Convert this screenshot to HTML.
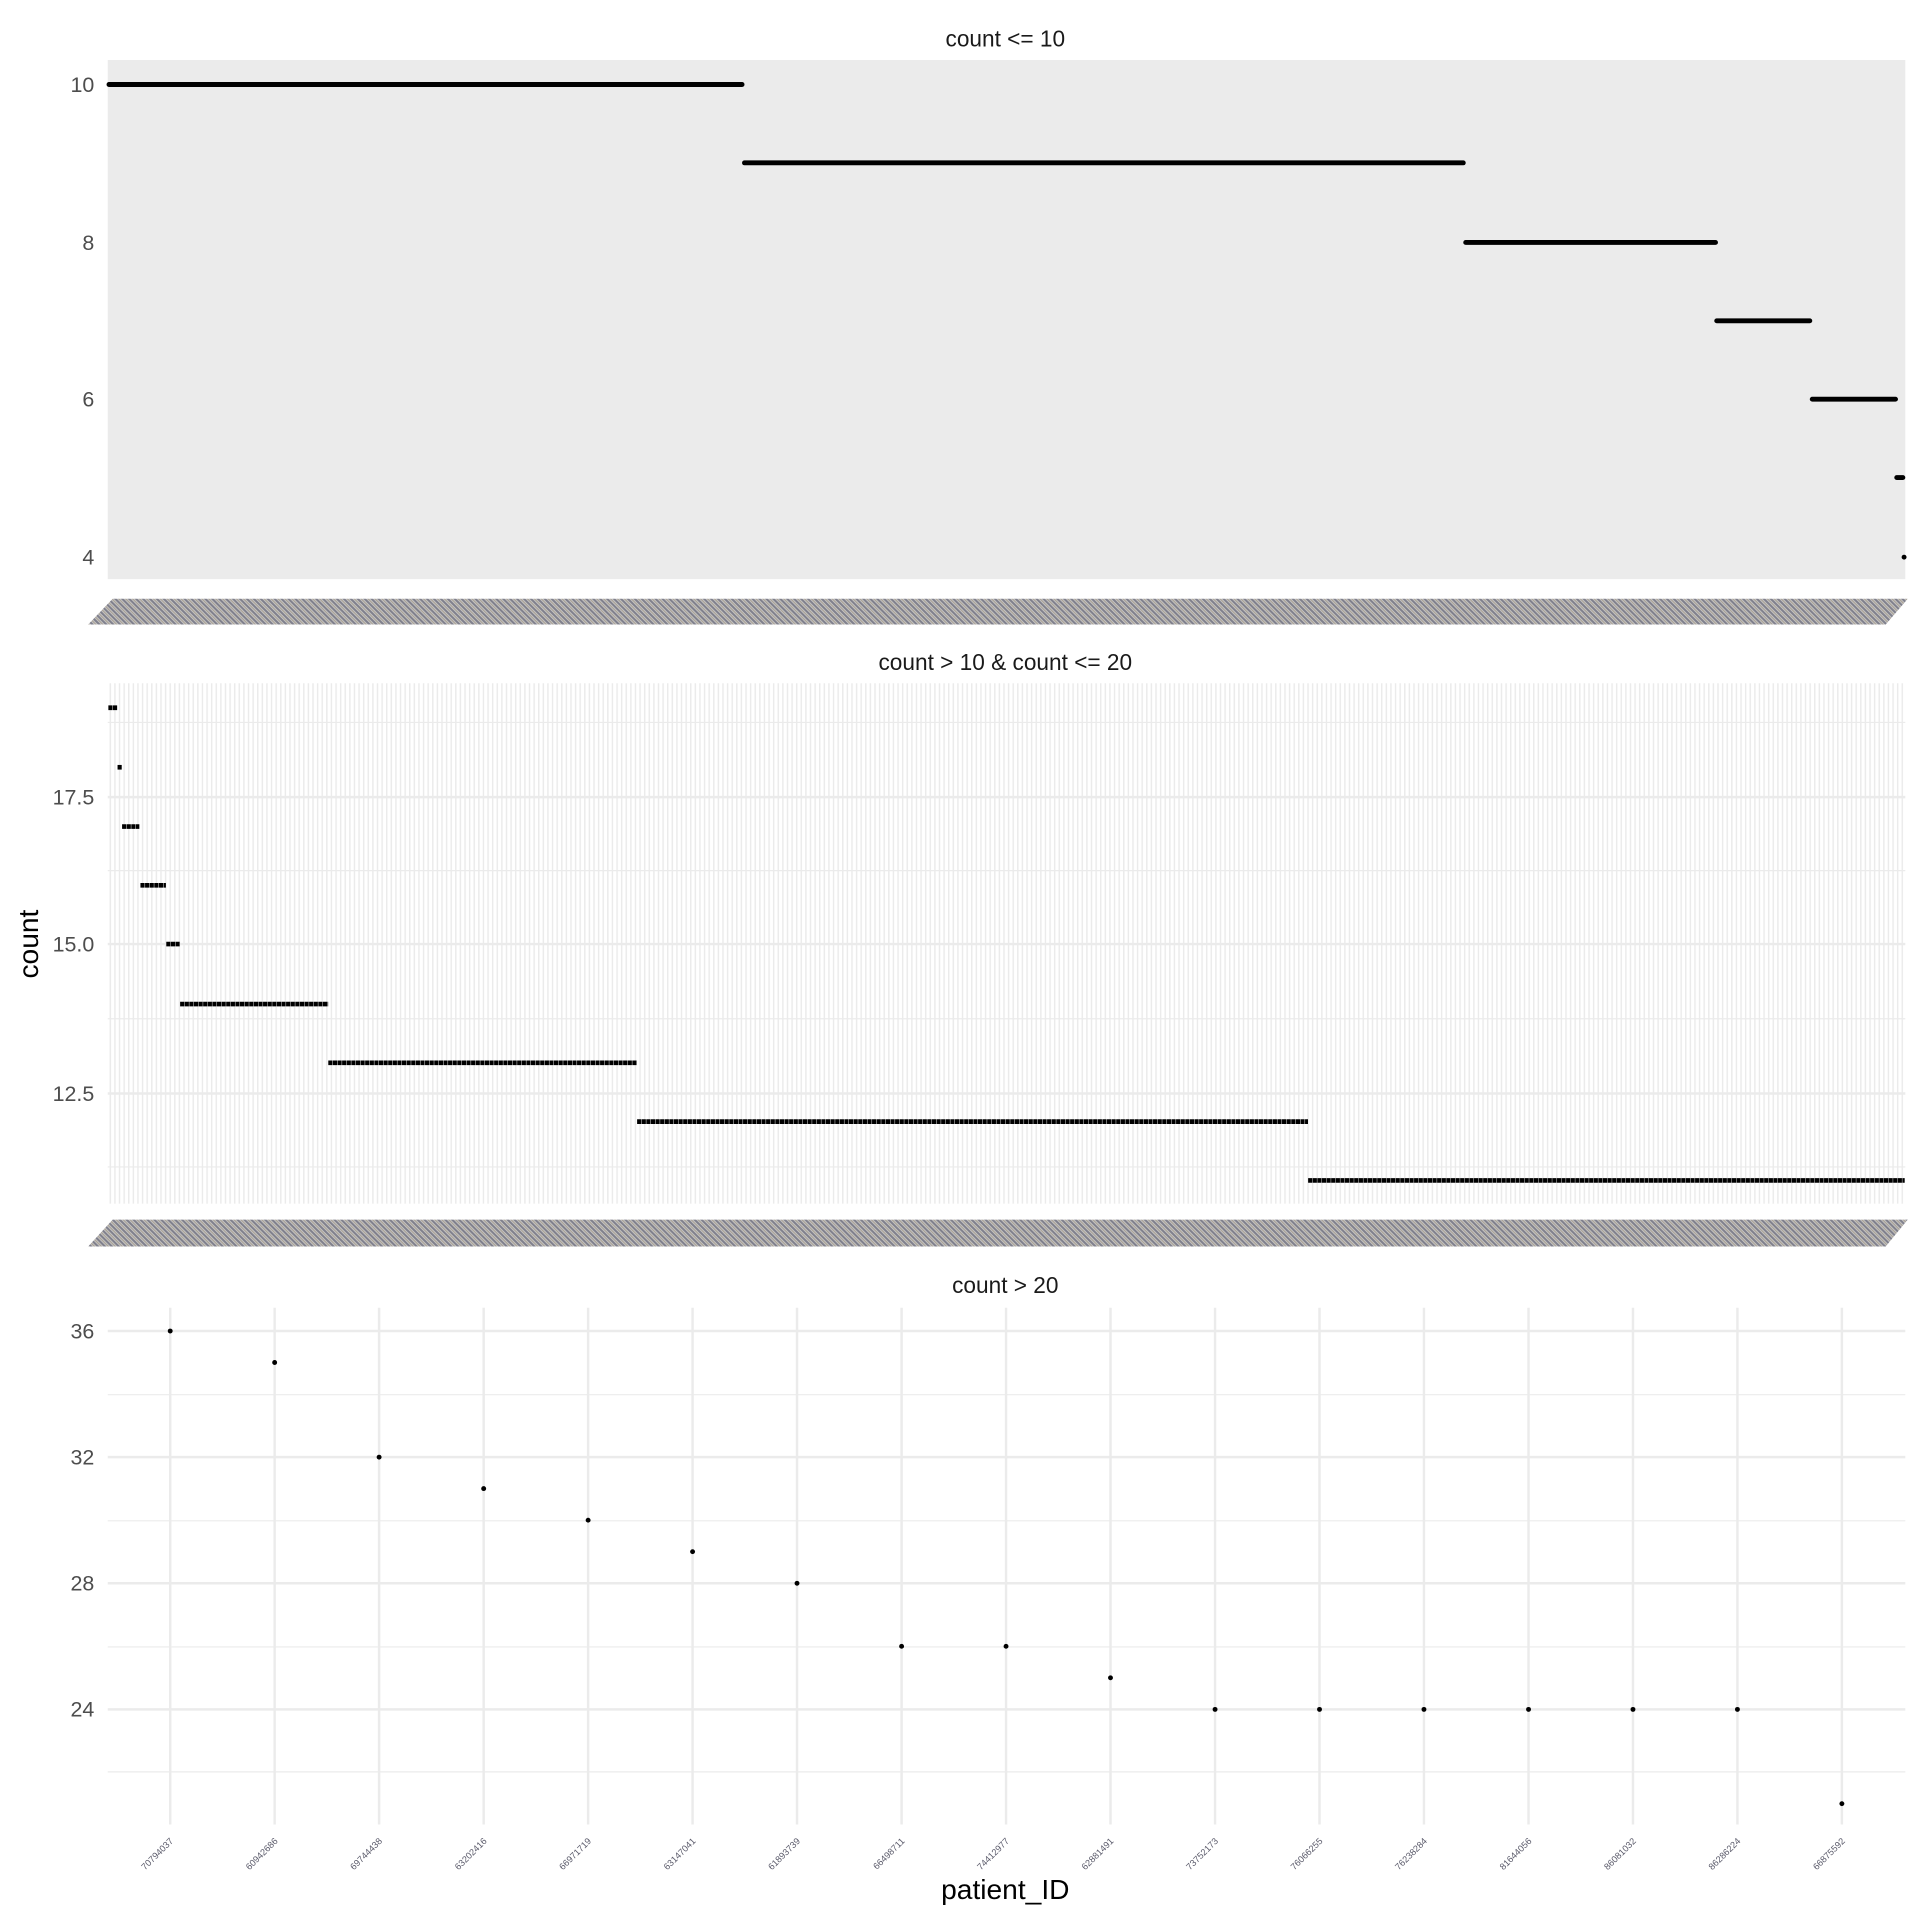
<!DOCTYPE html>
<html><head><meta charset="utf-8"><style>html,body{margin:0;padding:0;background:#fff}svg{display:block}</style></head>
<body>
<svg width="1920" height="1920" viewBox="0 0 1568 1568" xmlns="http://www.w3.org/2000/svg" font-family="Liberation Sans, sans-serif">
<defs>
<pattern id="vg" patternUnits="userSpaceOnUse" x="89.5" y="0" width="3.762" height="10"><rect x="0" y="0" width="1.2" height="10" fill="#EBEBEB"/></pattern>
<pattern id="r" patternUnits="userSpaceOnUse" x="88.2" y="0" width="3.762" height="1568"><rect x="0" y="0" width="3.762" height="1568" fill="none"/></pattern>
<pattern id="lab" patternUnits="userSpaceOnUse" width="4" height="4" patternTransform="rotate(-45)"><rect width="4" height="4" fill="#b8b8b8"/><rect width="1.6" height="4" fill="#6a6a78"/><rect x="2.4" width="0.8" height="4" fill="#9a8f80"/></pattern>
</defs>
<rect width="1568" height="1568" fill="#fff"/>

<!-- Panel 1 -->
<text x="821" y="38" font-size="18.5" text-anchor="middle" fill="#1a1a1a">count &lt;= 10</text>
<rect x="88" y="49" width="1468" height="424" fill="#EBEBEB"/>
<g font-size="17.5" fill="#4D4D4D" text-anchor="end">
<text x="77" y="75">10</text><text x="77" y="204">8</text><text x="77" y="332">6</text><text x="77" y="461">4</text>
</g>
<g stroke="#000" stroke-width="4" stroke-linecap="round">
<line x1="89" y1="69" x2="606" y2="69"/>
<line x1="608" y1="133" x2="1195" y2="133"/>
<line x1="1197" y1="198" x2="1401" y2="198"/>
<line x1="1402" y1="262" x2="1478" y2="262"/>
<line x1="1480" y1="326" x2="1548" y2="326"/>
<line x1="1549" y1="390" x2="1554" y2="390"/>
</g>
<circle cx="1555" cy="455" r="2" fill="#000"/>
<polygon points="92,489 1558,489 1540,510 72,510" fill="url(#lab)" opacity="0.85"/>

<!-- Panel 2 -->
<text x="821" y="547" font-size="18.5" text-anchor="middle" fill="#1a1a1a">count &gt; 10 &amp; count &lt;= 20</text>
<rect x="88" y="558" width="1468" height="425" fill="url(#vg)"/>
<g stroke="#EBEBEB">
<line x1="88" x2="1556" y1="590" y2="590" stroke-width="1"/><line x1="88" x2="1556" y1="711" y2="711" stroke-width="1"/>
<line x1="88" x2="1556" y1="832" y2="832" stroke-width="1"/><line x1="88" x2="1556" y1="953" y2="953" stroke-width="1"/>
<line x1="88" x2="1556" y1="651" y2="651" stroke-width="2"/><line x1="88" x2="1556" y1="771" y2="771" stroke-width="2"/><line x1="88" x2="1556" y1="893" y2="893" stroke-width="2"/>
</g>
<g font-size="17.5" fill="#4D4D4D" text-anchor="end">
<text x="77" y="657">17.5</text><text x="77" y="777">15.0</text><text x="77" y="899">12.5</text>
</g>
<g stroke="#000" stroke-width="3.8" stroke-dasharray="3.4 0.362" stroke-dashoffset="0">
<line x1="88.5" y1="578" x2="96" y2="578"/>
<line x1="96" y1="626.6" x2="99.6" y2="626.6"/>
<line x1="99.7" y1="675" x2="113.8" y2="675"/>
<line x1="114.7" y1="723" x2="135.5" y2="723"/>
<line x1="135.8" y1="771" x2="147" y2="771"/>
<line x1="147.1" y1="820" x2="268" y2="820"/>
<line x1="268.1" y1="868" x2="520.2" y2="868"/>
<line x1="520.3" y1="916" x2="1068.2" y2="916"/>
<line x1="1068.3" y1="964" x2="1555.5" y2="964"/>
</g>
<polygon points="92,996 1558,996 1540,1018 72,1018" fill="url(#lab)" opacity="0.85"/>

<text x="31" y="771" font-size="23" text-anchor="middle" fill="#000" transform="rotate(-90 31 771)">count</text>

<!-- Panel 3 -->
<text x="821" y="1056" font-size="18.5" text-anchor="middle" fill="#1a1a1a">count &gt; 20</text>
<g stroke="#EBEBEB">
<line x1="88" x2="1556" y1="1139" y2="1139" stroke-width="1"/><line x1="88" x2="1556" y1="1242" y2="1242" stroke-width="1"/>
<line x1="88" x2="1556" y1="1345" y2="1345" stroke-width="1"/><line x1="88" x2="1556" y1="1447" y2="1447" stroke-width="1"/>
<line x1="88" x2="1556" y1="1087" y2="1087" stroke-width="2"/><line x1="88" x2="1556" y1="1190" y2="1190" stroke-width="2"/>
<line x1="88" x2="1556" y1="1293" y2="1293" stroke-width="2"/><line x1="88" x2="1556" y1="1396" y2="1396" stroke-width="2"/>
<g stroke-width="2">
<line x1="139" x2="139" y1="1068" y2="1490"/><line x1="224.3" x2="224.3" y1="1068" y2="1490"/><line x1="309.6" x2="309.6" y1="1068" y2="1490"/><line x1="395" x2="395" y1="1068" y2="1490"/><line x1="480.3" x2="480.3" y1="1068" y2="1490"/><line x1="565.6" x2="565.6" y1="1068" y2="1490"/><line x1="650.9" x2="650.9" y1="1068" y2="1490"/><line x1="736.3" x2="736.3" y1="1068" y2="1490"/><line x1="821.6" x2="821.6" y1="1068" y2="1490"/><line x1="906.9" x2="906.9" y1="1068" y2="1490"/><line x1="992.3" x2="992.3" y1="1068" y2="1490"/><line x1="1077.6" x2="1077.6" y1="1068" y2="1490"/><line x1="1162.9" x2="1162.9" y1="1068" y2="1490"/><line x1="1248.3" x2="1248.3" y1="1068" y2="1490"/><line x1="1333.6" x2="1333.6" y1="1068" y2="1490"/><line x1="1418.9" x2="1418.9" y1="1068" y2="1490"/><line x1="1504.2" x2="1504.2" y1="1068" y2="1490"/>
</g>
</g>
<g font-size="17.5" fill="#4D4D4D" text-anchor="end">
<text x="77" y="1093">36</text><text x="77" y="1196">32</text><text x="77" y="1299">28</text><text x="77" y="1402">24</text>
</g>
<g fill="#000">
<circle cx="139" cy="1087" r="2"/><circle cx="224.3" cy="1112.7" r="2"/><circle cx="309.6" cy="1190" r="2"/><circle cx="395" cy="1215.7" r="2"/><circle cx="480.3" cy="1241.5" r="2"/><circle cx="565.6" cy="1267.2" r="2"/><circle cx="650.9" cy="1293" r="2"/><circle cx="736.3" cy="1344.5" r="2"/><circle cx="821.6" cy="1344.5" r="2"/><circle cx="906.9" cy="1370.2" r="2"/><circle cx="992.3" cy="1396" r="2"/><circle cx="1077.6" cy="1396" r="2"/><circle cx="1162.9" cy="1396" r="2"/><circle cx="1248.3" cy="1396" r="2"/><circle cx="1333.6" cy="1396" r="2"/><circle cx="1418.9" cy="1396" r="2"/><circle cx="1504.2" cy="1473" r="2"/>
</g>
<g font-size="7.5" fill="#5a5a6a" text-anchor="end">
<text transform="translate(142,1504) rotate(-45)">70794037</text>
<text transform="translate(227.3,1504) rotate(-45)">60942686</text>
<text transform="translate(312.6,1504) rotate(-45)">69744438</text>
<text transform="translate(398,1504) rotate(-45)">63202416</text>
<text transform="translate(483.3,1504) rotate(-45)">66971719</text>
<text transform="translate(568.6,1504) rotate(-45)">63147041</text>
<text transform="translate(653.9,1504) rotate(-45)">61893739</text>
<text transform="translate(739.3,1504) rotate(-45)">66498711</text>
<text transform="translate(824.6,1504) rotate(-45)">74412977</text>
<text transform="translate(909.9,1504) rotate(-45)">62881491</text>
<text transform="translate(995.3,1504) rotate(-45)">73752173</text>
<text transform="translate(1080.6,1504) rotate(-45)">76066255</text>
<text transform="translate(1165.9,1504) rotate(-45)">76238284</text>
<text transform="translate(1251.3,1504) rotate(-45)">81644056</text>
<text transform="translate(1336.6,1504) rotate(-45)">86081032</text>
<text transform="translate(1421.9,1504) rotate(-45)">86286224</text>
<text transform="translate(1507.2,1504) rotate(-45)">66875592</text>
</g>
<text x="821" y="1551" font-size="23" text-anchor="middle" fill="#000">patient_ID</text>
</svg>
</body></html>
